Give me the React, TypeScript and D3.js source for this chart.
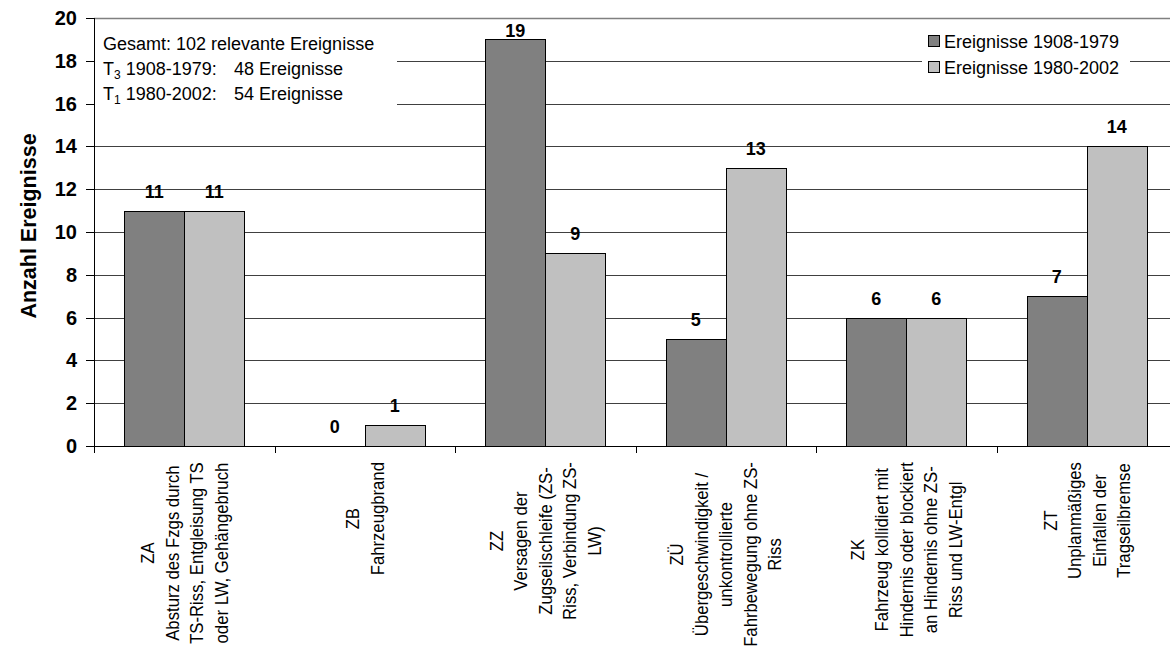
import React from "react";
import * as d3 from "d3";

const categories = ["ZA", "ZB", "ZZ", "ZÜ", "ZK", "ZT"];
const categoryLines: string[][] = [
  ["ZA", "Absturz des Fzgs durch", "TS-Riss, Entgleisung TS", "oder LW, Gehängebruch"],
  ["ZB", "Fahrzeugbrand"],
  ["ZZ", "Versagen der", "Zugseilschleife (ZS-", "Riss, Verbindung ZS-", "LW)"],
  ["ZÜ", "Übergeschwindigkeit /", "unkontrollierte", "Fahrbewegung ohne ZS-", "Riss"],
  ["ZK", "Fahrzeug kollidiert mit", "Hindernis oder blockiert", "an Hindernis ohne ZS-", "Riss und LW-Entgl"],
  ["ZT", "Unplanmäßiges", "Einfallen der", "Tragseilbremse"],
];
const series1908 = [11, 0, 19, 5, 6, 7];
const series1980 = [11, 1, 9, 13, 6, 14];
const seriesNames = ["Ereignisse 1908-1979", "Ereignisse 1980-2002"];
const yTicks = [0, 2, 4, 6, 8, 10, 12, 14, 16, 18, 20];
const yTitle = "Anzahl Ereignisse";

const W = 1170;
const H = 647;
const left = 94;
const right = 1177;
const top = 18;
const bottom = 446;
const DARK = "#808080";
const LIGHT = "#c0c0c0";
const FONT = "Arial, 'Liberation Sans', sans-serif";
const XL_FS = 19;
const XL_SX = 0.88;

function measure(text: string, font: string): number {
  if (typeof document === "undefined") return text.length * 9;
  const c = document.createElement("canvas");
  const ctx = c.getContext("2d");
  if (!ctx) return text.length * 9;
  ctx.font = font;
  return ctx.measureText(text).width;
}

export default function App() {
  const x = d3.scaleBand<string>().domain(categories).range([left, right]).paddingInner(0).paddingOuter(0);
  const y = d3.scaleLinear().domain([0, 20]).range([bottom, top]);
  const bw = x.bandwidth();
  const barW = bw / 3;
  const gap = (bw - 2 * barW) / 2;
  const series = [series1908, series1980];
  const colors = [DARK, LIGHT];

  const blockWidths = React.useMemo(
    () =>
      categoryLines.map((lines) =>
        d3.max(lines, (l) => measure(l, `${XL_FS}px "Liberation Sans", Arial, sans-serif`) * XL_SX) as number
      ),
    []
  );

  return (
    <svg width={W} height={H} style={{ position: "absolute", left: 0, top: 0, display: "block" }} fontFamily={FONT}>
      <rect x={0} y={0} width={W} height={H} fill="#fff" />
      {/* grid lines */}
      {yTicks.filter((t) => t > 0).map((t) => (
        <line key={"g" + t} x1={left} x2={right} y1={Math.round(y(t)) + 0.5} y2={Math.round(y(t)) + 0.5}
          stroke={t === 20 ? "#808080" : "#404040"} strokeWidth={t === 20 ? 1.5 : 1} />
      ))}
      {/* annotation box cover */}
      <rect x={left + 1} y={top + 2} width={302} height={100} fill="#fff" />
      {/* legend box cover */}
      <rect x={922} y={26} width={208} height={70} fill="#fff" />

      {/* bars */}
      {series.map((s, si) =>
        s.map((v, i) => {
          const bx = (x(categories[i]) as number) + gap + si * barW;
          const by = y(v);
          if (v === 0) return null;
          return (
            <rect key={`b${si}-${i}`} x={Math.round(bx) + 0.5} y={Math.round(by) + 0.5}
              width={Math.round(barW)} height={Math.round(bottom - by)}
              fill={colors[si]} stroke="#000" strokeWidth={1} />
          );
        })
      )}
      {/* value labels */}
      {series.map((s, si) =>
        s.map((v, i) => {
          const cx = (x(categories[i]) as number) + gap + si * barW + barW / 2;
          const ly = Math.max(y(v) - 13, top + 19);
          return (
            <text key={`l${si}-${i}`} x={cx} y={ly} textAnchor="middle" fontSize={18} fontWeight="bold" fill="#000">
              {v}
            </text>
          );
        })
      )}

      {/* axes */}
      <line x1={left + 0.5} x2={left + 0.5} y1={top} y2={bottom + 0.5} stroke="#000" />
      <line x1={left} x2={right} y1={bottom + 0.5} y2={bottom + 0.5} stroke="#000" />
      {yTicks.map((t) => (
        <g key={"yt" + t}>
          <line x1={left - 8} x2={left} y1={Math.round(y(t)) + 0.5} y2={Math.round(y(t)) + 0.5} stroke="#000" />
          <text x={77} y={y(t) + 7} textAnchor="end" fontSize={20} fontWeight="bold">{t}</text>
        </g>
      ))}
      {categories.map((c, i) => (
        <line key={"xt" + i} x1={Math.round(x(c) as number) + 0.5} x2={Math.round(x(c) as number) + 0.5}
          y1={bottom} y2={bottom + 7} stroke="#000" />
      ))}
      <text transform={`translate(36, 226) rotate(-90)`} textAnchor="middle" fontSize={21.5} fontWeight="bold">{yTitle}</text>

      {/* x category labels */}
      {categories.map((c, i) => {
        const lines = categoryLines[i];
        const cx = (x(c) as number) + bw / 2;
        const spacing = 24.5;
        const cy = 462 + blockWidths[i] / 2;
        return (
          <g key={"xl" + i}>
            {lines.map((l, li) => {
              const lx = cx + (li - (lines.length - 1) / 2) * spacing + 6.5;
              return (
                <text key={li} transform={`translate(${lx}, ${cy}) rotate(-90) scale(${XL_SX},1)`}
                  textAnchor="middle" fontSize={XL_FS} fill="#000">
                  {l}
                </text>
              );
            })}
          </g>
        );
      })}

      {/* annotation */}
      <g fontSize={18} fill="#000">
        <text x={103} y={50}>Gesamt: 102 relevante Ereignisse</text>
        <text x={103} y={75}>T<tspan fontSize={12} dy={4}>3</tspan><tspan dy={-4}> 1908-1979:</tspan></text>
        <text x={234} y={75}>48 Ereignisse</text>
        <text x={103} y={100}>T<tspan fontSize={12} dy={4}>1</tspan><tspan dy={-4}> 1980-2002:</tspan></text>
        <text x={234} y={100}>54 Ereignisse</text>
      </g>

      {/* legend */}
      {seriesNames.map((n, i) => (
        <g key={"lg" + i}>
          <rect x={928.5} y={35.5 + i * 26} width={11} height={11} fill={colors[i]} stroke="#000" />
          <text x={944} y={48 + i * 26} fontSize={18}>{n}</text>
        </g>
      ))}
    </svg>
  );
}
